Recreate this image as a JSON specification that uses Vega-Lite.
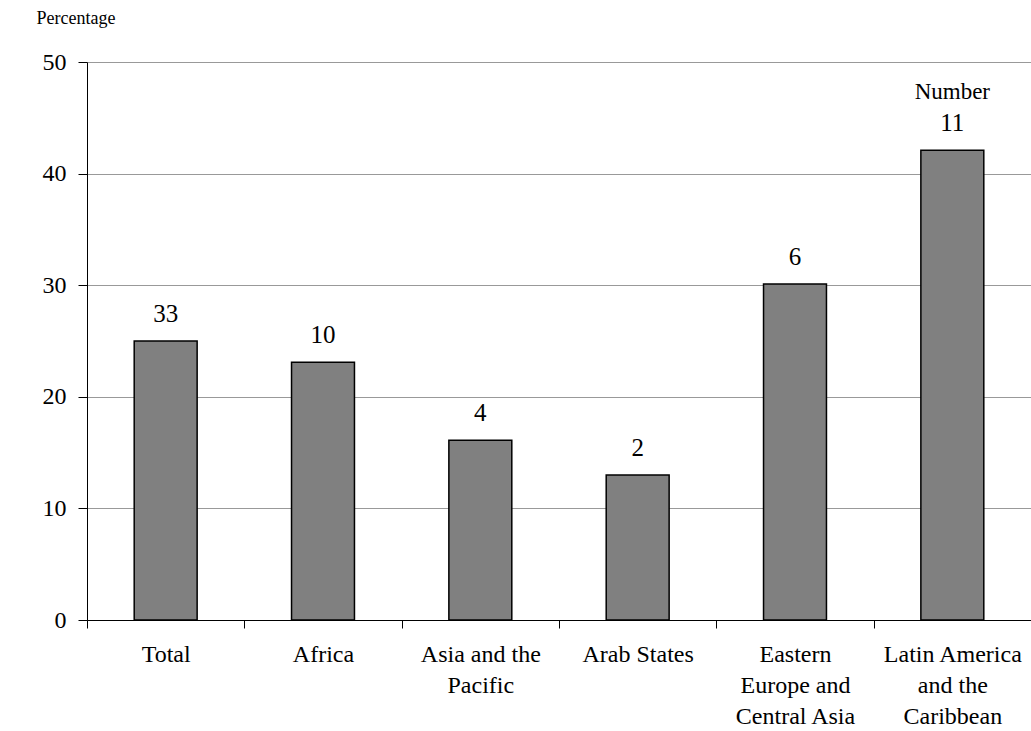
{
  "$schema": "https://vega.github.io/schema/vega-lite/v6.json",
  "width": 944,
  "height": 558,
  "autosize": {"type": "none"},
  "padding": {"left": 87, "top": 62, "right": 0, "bottom": 111},
  "background": "white",
  "config": {
    "font": "Liberation Serif",
    "view": {"stroke": null},
    "axis": {"labelFont": "Liberation Serif", "titleFont": "Liberation Serif"}
  },
  "data": {
    "values": [
      {"region": "Total", "pct": 25, "number": "33", "note": ""},
      {"region": "Africa", "pct": 23.1, "number": "10", "note": ""},
      {"region": "Asia and the|Pacific", "pct": 16.1, "number": "4", "note": ""},
      {"region": "Arab States", "pct": 13, "number": "2", "note": ""},
      {"region": "Eastern|Europe and|Central Asia", "pct": 30.1, "number": "6", "note": ""},
      {"region": "Latin America|and the|Caribbean", "pct": 42.1, "number": "11", "note": "Number"}
    ]
  },
  "encoding": {
    "x": {
      "field": "region",
      "type": "nominal",
      "sort": null,
      "scale": {"paddingInner": 0, "paddingOuter": 0},
      "axis": {
        "title": null,
        "labelAngle": 0,
        "labelExpr": "split(datum.label, '|')",
        "labelFont": "Liberation Serif",
        "labelFontSize": 24,
        "labelColor": "black",
        "labelLineHeight": 31,
        "labelPadding": 14,
        "labelLimit": 0,
        "tickBand": "extent",
        "tickSize": 8,
        "tickColor": "black",
        "domainColor": "black",
        "domainWidth": 1,
        "grid": false
      }
    },
    "y": {
      "field": "pct",
      "type": "quantitative",
      "scale": {"domain": [0, 50]},
      "axis": {
        "values": [0, 10, 20, 30, 40, 50],
        "title": "Percentage",
        "titleAngle": 0,
        "titleAlign": "left",
        "titleBaseline": "middle",
        "titleX": -51,
        "titleY": -44,
        "titleFontSize": 18,
        "titleFontWeight": "normal",
        "titleColor": "black",
        "labelFont": "Liberation Serif",
        "labelFontSize": 24,
        "labelColor": "black",
        "labelPadding": 12,
        "tickSize": 9,
        "tickColor": "black",
        "domainColor": "black",
        "grid": true,
        "gridColor": "#999999",
        "gridWidth": 1
      }
    }
  },
  "layer": [
    {
      "mark": {"type": "bar", "width": {"band": 0.4}, "fill": "#808080", "stroke": "black", "strokeWidth": 1.5}
    },
    {
      "mark": {"type": "text", "baseline": "middle", "dy": -27, "fontSize": 25, "color": "black", "font": "Liberation Serif"},
      "encoding": {"text": {"field": "number"}}
    },
    {
      "mark": {"type": "text", "baseline": "middle", "dy": -58, "fontSize": 23, "color": "black", "font": "Liberation Serif"},
      "encoding": {"text": {"field": "note"}}
    }
  ]
}
